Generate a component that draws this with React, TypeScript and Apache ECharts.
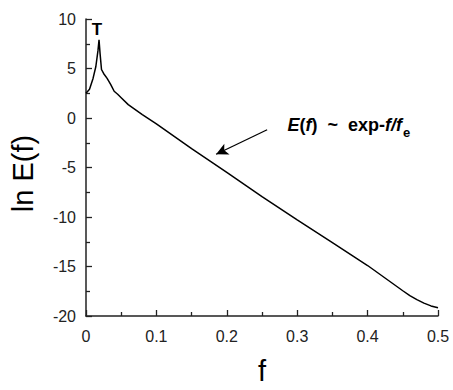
import React, { useEffect, useRef } from "react";
import * as echarts from "echarts";

const fValues = [0, 0.005, 0.01, 0.014, 0.017, 0.0185, 0.02, 0.022, 0.025, 0.03, 0.035, 0.04, 0.045, 0.05, 0.06, 0.08, 0.1, 0.15, 0.2, 0.25, 0.3, 0.35, 0.4, 0.45, 0.46, 0.47, 0.48, 0.49, 0.5];
const lnE = [2.5, 2.9, 4.0, 5.2, 6.8, 7.9, 6.5, 4.9, 4.5, 4.0, 3.4, 2.7, 2.4, 2.05, 1.35, 0.35, -0.6, -3.1, -5.5, -7.95, -10.3, -12.6, -14.9, -17.45, -17.95, -18.35, -18.7, -18.98, -19.17];
const xTicks = [0, 0.1, 0.2, 0.3, 0.4, 0.5];
const yTicks = [-20, -15, -10, -5, 0, 5, 10];
const arrowFrom = [0.2573, -1.19];
const arrowTo = [0.1848, -3.66];

const FONT = "'Liberation Sans', Arial, sans-serif";

export default function App() {
  const ref = useRef<HTMLDivElement>(null);
  useEffect(() => {
    if (!ref.current) return;
    const chart = echarts.init(ref.current, null, { renderer: "svg" });
    const axisColor = "#222";
    chart.setOption({
      animation: false,
      backgroundColor: "#fff",
      grid: { left: 86, right: 15, top: 19, bottom: 68 },
      xAxis: {
        type: "value",
        min: xTicks[0],
        max: xTicks[xTicks.length - 1],
        interval: 0.1,
        name: "f",
        nameLocation: "middle",
        nameGap: 40,
        nameTextStyle: { fontSize: 29, color: "#000", fontFamily: FONT },
        axisLine: { show: true, onZero: false, lineStyle: { color: axisColor, width: 1.5 } },
        axisTick: { show: true, inside: true, length: 6, lineStyle: { color: axisColor, width: 1.3 } },
        minorTick: { show: true, splitNumber: 2, length: 4, lineStyle: { color: axisColor, width: 1.3 } },
        axisLabel: {
          fontSize: 16,
          color: "#222",
          fontFamily: FONT,
          margin: 12,
          formatter: (v: number) => (xTicks.some((t) => Math.abs(t - v) < 1e-9) ? String(Math.round(v * 10) / 10) : ""),
        },
        splitLine: { show: false },
      },
      yAxis: {
        type: "value",
        min: yTicks[0],
        max: yTicks[yTicks.length - 1],
        interval: 5,
        name: "ln E(f)",
        nameLocation: "middle",
        nameGap: 49,
        nameRotate: 90,
        nameTextStyle: { fontSize: 29, color: "#000", fontFamily: FONT, padding: [0, 12, 0, 0] },
        axisLine: { show: true, onZero: false, lineStyle: { color: axisColor, width: 1.5 } },
        axisTick: { show: true, inside: true, length: 6, lineStyle: { color: axisColor, width: 1.3 } },
        minorTick: { show: true, splitNumber: 2, length: 4, lineStyle: { color: axisColor, width: 1.3 } },
        axisLabel: { fontSize: 16, color: "#222", fontFamily: FONT, margin: 10 },
        splitLine: { show: false },
      },
      series: [
        {
          type: "line",
          data: fValues.map((f, i) => [f, lnE[i]]),
          showSymbol: false,
          symbol: "none",
          lineStyle: { color: "#000", width: 1.5 },
          markLine: {
            silent: true,
            symbol: ["none", "arrow"],
            symbolSize: [9, 12],
            label: { show: false },
            lineStyle: { color: "#000", width: 1.3, type: "solid" },
            data: [[{ coord: arrowFrom }, { coord: arrowTo }]],
          },
        },
      ],
      graphic: [
        {
          type: "text",
          style: {
            x: 97,
            y: 29.5,
            text: "T",
            font: "bold 17px " + FONT,
            fill: "#000",
            textAlign: "center",
            textVerticalAlign: "middle",
          },
        },
        {
          type: "text",
          style: {
            x: 402,
            y: 124.5,
            text: "{i|E}{b|(}{i|f}{b|)  ~  exp-}{i|f/f}",
            font: "bold 18px " + FONT,
            fill: "#000",
            textAlign: "right",
            textVerticalAlign: "middle",
            rich: {
              i: { font: "italic bold 18px " + FONT, fill: "#000" },
              b: { font: "bold 18px " + FONT, fill: "#000" },
            },
          },
        },
        {
          type: "text",
          style: {
            x: 403,
            y: 132,
            text: "e",
            font: "bold 13px " + FONT,
            fill: "#000",
            textAlign: "left",
            textVerticalAlign: "middle",
          },
        },
      ],
    });
    return () => chart.dispose();
  }, []);
  return <div ref={ref} style={{ width: 453, height: 390, position: "absolute", left: 0, top: 0 }} />;
}
